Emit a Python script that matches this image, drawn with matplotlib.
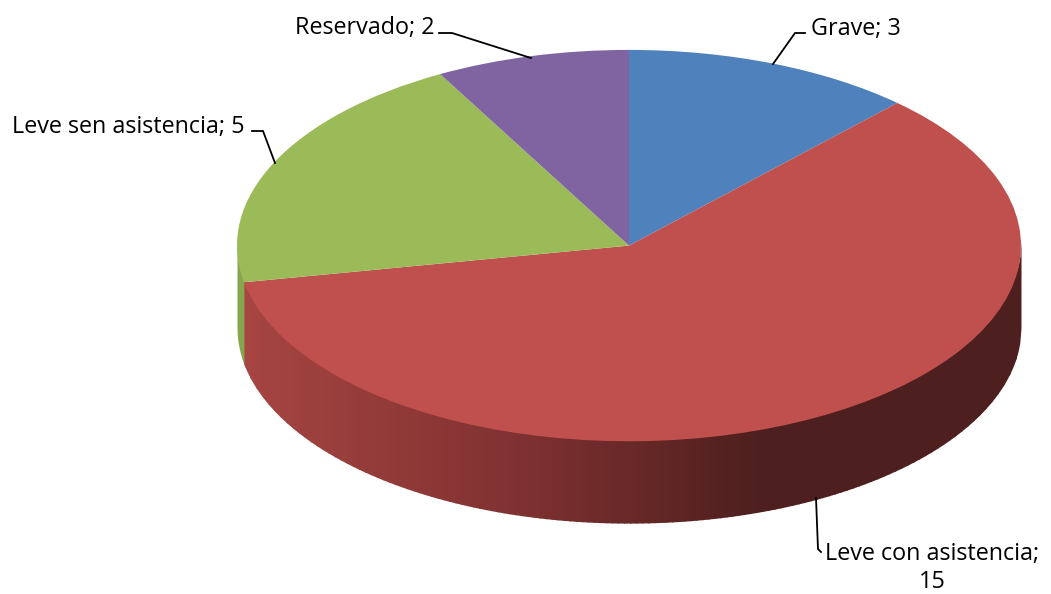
import numpy as np
import matplotlib
matplotlib.use("Agg")
import matplotlib.pyplot as plt
from matplotlib.colors import to_rgb

categories = ["Grave", "Leve con asistencia", "Leve sen asistencia", "Reservado"]
values = [3, 15, 5, 2]
colors = ["#4F81BD", "#BF504D", "#9BBB59", "#8064A2"]
green_wall = "#85A64C"

W, H = 1051, 594
CX, CY, RX, RY, DEPTH = 629, 245, 392, 196, 82

plt.rcParams["font.family"] = ["Open Sans", "DejaVu Sans"]
fig = plt.figure(figsize=(W / 100, H / 100), dpi=100, facecolor="white")
ax = fig.add_axes([0, 0, 1, 1])

wedges, _ = ax.pie(values, colors=colors, startangle=90, counterclock=False, radius=1,
                   wedgeprops=dict(linewidth=0))
for w in wedges:
    w.set_zorder(5)
ax.set_aspect("auto")
ax.set_xlim(-CX / RX, (W - CX) / RX)
ax.set_ylim((CY - H) / RY, (CY + 1) / RY)
ax.axis("off")

depth = DEPTH / RY
# angle (clockwise from top) where the red slice ends
end_red = (values[0] + values[1]) / sum(values) * 2 * np.pi
x_red_end = np.sin(end_red)

# side wall of the green slice, visible at the far left only
xg = np.linspace(-1, x_red_end + 0.004, 30)
yg = -np.sqrt(np.clip(1 - xg ** 2, 0, None))
ax.fill_between(xg, 0 * xg, yg - depth, color=green_wall, linewidth=0, zorder=1)

# side wall of the red slice: banded shading from left to right
stops_x = [x_red_end, (520 - CX) / RX, (760 - CX) / RX, 1.0]
stops_c = np.array([to_rgb(c) for c in ["#A64541", "#7F3131", "#4D1F1E", "#4D1F1E"]])
edges = np.linspace(x_red_end, 1.0, 130)
for a, b in zip(edges[:-1], edges[1:]):
    xs = np.linspace(a, min(b + 0.003, 1.0), 6)
    top = -np.sqrt(np.clip(1 - xs ** 2, 0, None))
    mid = (a + b) / 2
    col = [np.interp(mid, stops_x, stops_c[:, i]) for i in range(3)]
    ax.fill_between(xs, top + 0.02, top - depth, color=col, linewidth=0, zorder=2)

# overlay in pixel coordinates for labels and leader lines
ov = fig.add_axes([0, 0, 1, 1], facecolor="none")
ov.set_xlim(0, W)
ov.set_ylim(H, 0)
ov.axis("off")

fs = 16.8
label = [f"{n}; {v}" for n, v in zip(categories, values)]
ov.text(811, 29, label[0], fontsize=fs, va="center", ha="left", color="black")
ov.text(295, 28, label[3], fontsize=fs, va="center", ha="left", color="black")
ov.text(12, 127, label[2], fontsize=fs, va="center", ha="left", color="black")
ov.text(932, 568, f"{categories[1]};\n{values[1]}", fontsize=fs, va="center", ha="center",
        color="black", linespacing=1.25)

for xs, ys in [([773, 795, 805], [64, 33, 33]),
               ([531, 452, 439], [58, 33, 33]),
               ([275, 263, 252], [163, 131, 131]),
               ([816, 818, 821], [498, 549, 552])]:
    ov.plot(xs, ys, color="black", lw=1.3, solid_joinstyle="miter")

fig.savefig("out.png", dpi=100, facecolor="white")
